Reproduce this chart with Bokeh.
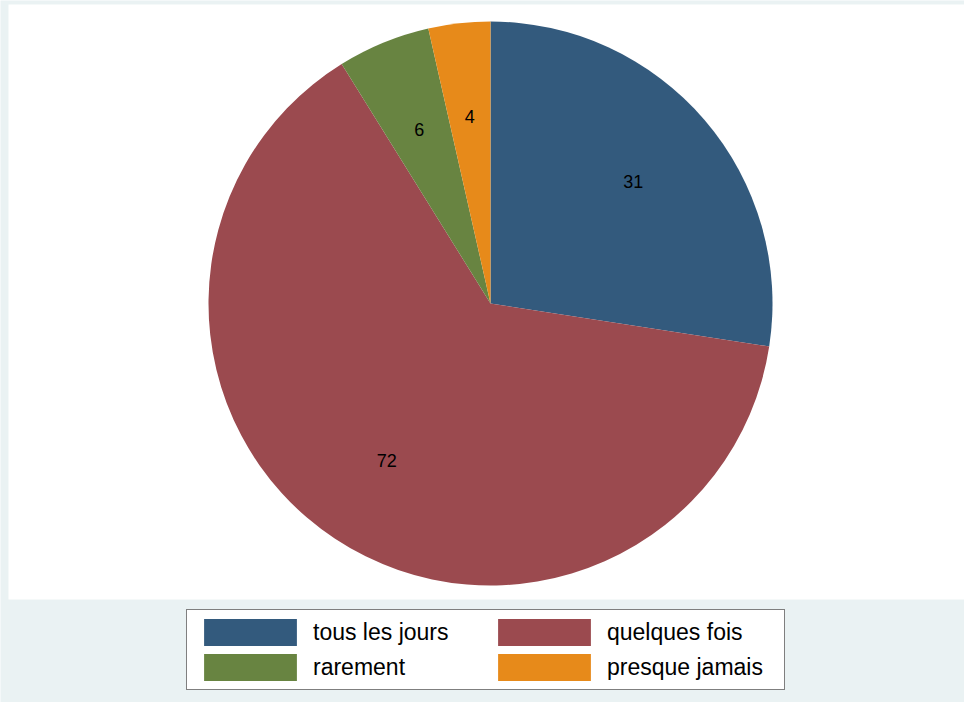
import math
from bokeh.plotting import figure
from bokeh.models import Range1d, Legend, LegendItem, ColumnDataSource, BoxAnnotation
from bokeh.core.properties import value
from bokeh.embed import file_html
from bokeh.resources import INLINE

categories = ["tous les jours", "quelques fois", "rarement", "presque jamais"]
counts = [31, 72, 6, 4]
colors = ["#335A7D", "#9B4A4F", "#688441", "#E78A1A"]

FONT = "Liberation Sans"
BG = "#EAF2F3"
R = 282

total = sum(counts)
starts, ends, lx, ly, labels = [], [], [], [], []
cum = 0.0
for c in counts:
    a0 = math.pi / 2 - 2 * math.pi * (cum + c) / total
    a1 = math.pi / 2 - 2 * math.pi * cum / total
    starts.append(a0)
    ends.append(a1)
    mid = (a0 + a1) / 2
    lx.append(R * 2 / 3 * math.cos(mid))
    ly.append(R * 2 / 3 * math.sin(mid))
    labels.append(str(c))
    cum += c

src = ColumnDataSource(dict(start=starts, end=ends, color=colors, cat=categories,
                            lx=lx, ly=ly, lab=labels))

W, H = 964, 702
# 1 data unit = 1 pixel; pie centre at (0, 0)
p = figure(width=W, height=H, output_backend="svg", toolbar_location=None,
           x_range=Range1d(-490, 474), y_range=Range1d(-399, 303),
           min_border=0)
p.background_fill_color = BG
p.border_fill_color = BG
p.outline_line_color = None
p.axis.visible = False
p.grid.visible = False

# white plot region
p.add_layout(BoxAnnotation(left=-482, right=474, bottom=-296, top=299,
                           fill_color="white", fill_alpha=1.0, line_color=None,
                           level="underlay"))

r = p.wedge(x=0, y=0, radius=R, start_angle="start", end_angle="end",
            fill_color="color", line_color=None, source=src)
p.text(x="lx", y="ly", text="lab", source=src, text_align="center",
       text_baseline="middle", text_font=value(FONT), text_font_size="18px",
       text_color="black")

# column-major fill: order items so rows read (tous, quelques) / (rarement, presque)
order = [0, 2, 1, 3]
items = [LegendItem(label=categories[i], renderers=[r], index=i) for i in order]
legend = Legend(items=items, ncols=2, location=(186, 12),
                glyph_width=116, glyph_height=34, label_standoff=5, label_width=172,
                spacing=1, padding=5, margin=0,
                label_text_font=FONT, label_text_font_size="23px", label_text_color="black",
                border_line_color="black", border_line_width=1,
                background_fill_color="white", background_fill_alpha=1.0)
p.add_layout(legend, "center")

open("out.html", "w").write(file_html(p, INLINE))
